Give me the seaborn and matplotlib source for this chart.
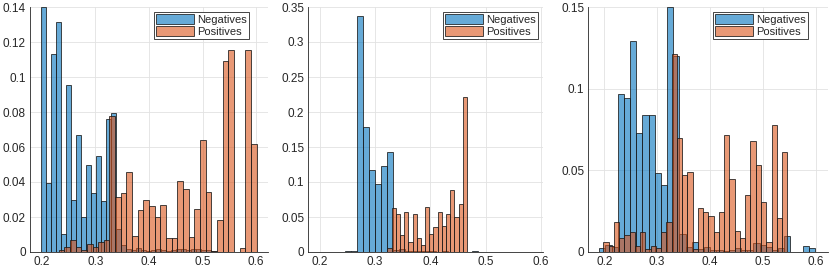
import numpy as np
import pandas as pd
import matplotlib
matplotlib.use("Agg")
import matplotlib.pyplot as plt
import seaborn as sns

# histogram bin layout (first edge, bin width) and bin heights
neg1_start, neg1_width = 0.1976, 0.00935
neg1 = [0.1398, 0.0396, 0.1133, 0.1312, 0.0103, 0.0954, 0.0297, 0.0669, 0.0198, 0.0499,
        0.0339, 0.0550, 0.0291, 0.0760, 0.0794, 0.0130, 0.0040, 0.0020, 0.0012, 0.0025,
        0.0012, 0.0008, 0.0012, 0.0018, 0.0010, 0.0008, 0.0012, 0.0015, 0.0015, 0.0010,
        0.0015, 0.0015, 0.0012, 0.0010, 0.0008]
pos1_start, pos1_width = 0.231, 0.01057
pos1 = [0.0010, 0.0030, 0.0068, 0.0030, 0.0010, 0.0045, 0.0030, 0.0060, 0.0068, 0.0780,
        0.0314, 0.0337, 0.0455, 0.0091, 0.0240, 0.0299, 0.0263, 0.0200, 0.0269, 0.0078,
        0.0080, 0.0404, 0.0358, 0.0084, 0.0248, 0.0640, 0.0343, 0.0006, 0.0180, 0.1093,
        0.1152, 0.0, 0.0021, 0.1152, 0.0615]

neg2_start, neg2_width = 0.2459, 0.0109
neg2 = [0.0010, 0.0010, 0.3376, 0.1786, 0.1170, 0.0967, 0.1233, 0.1429, 0.0030, 0.0040,
        0.0020, 0.0010, 0.0010, 0.0008, 0.0010, 0.0005, 0.0008, 0.0005, 0.0005, 0.0,
        0.0, 0.0008]
pos2_start, pos2_width = 0.3223, 0.00758
pos2 = [0.0060, 0.0624, 0.0543, 0.0238, 0.0571, 0.0138, 0.0543, 0.0205, 0.0105, 0.0643,
        0.0257, 0.0357, 0.0576, 0.0367, 0.0543, 0.0886, 0.0495, 0.0690, 0.2210]

neg3_start, neg3_width = 0.1903, 0.01167
neg3 = [0.0024, 0.0040, 0.0030, 0.0967, 0.0945, 0.1294, 0.0729, 0.0841, 0.0841, 0.0486,
        0.0412, 0.1498, 0.1200, 0.0110, 0.0030, 0.0063, 0.0020, 0.0030, 0.0010, 0.0010,
        0.0005, 0.0010, 0.0027, 0.0015, 0.0015, 0.0053, 0.0043, 0.0033, 0.0010, 0.0027,
        0.0100, 0.0, 0.0, 0.0039, 0.0023]
pos3_start, pos3_width = 0.198, 0.00995
pos3 = [0.0063, 0.0039, 0.0186, 0.0087, 0.0104, 0.0120, 0.0039, 0.0120, 0.0018, 0.0039,
        0.0022, 0.0120, 0.0186, 0.1212, 0.0698, 0.0470, 0.0488, 0.0020, 0.0267, 0.0245,
        0.0222, 0.0120, 0.0247, 0.0714, 0.0447, 0.0129, 0.0084, 0.0349, 0.0678, 0.0533,
        0.0304, 0.0063, 0.0776, 0.0206, 0.0614]

xticks = [0.2, 0.3, 0.4, 0.5, 0.6]
yticks = [np.arange(0, 0.1401, 0.02), np.arange(0, 0.3501, 0.05), np.arange(0, 0.1501, 0.05)]
ymax = [0.14, 0.35, 0.15]
xlims = [(0.1776, 0.6224), (0.1788, 0.6042), (0.1697, 0.6233)]

sns.set_style("white")
plt.rcParams['font.family'] = ['Liberation Sans', 'DejaVu Sans']

W, H = 830, 274
fig = plt.figure(figsize=(W / 100, H / 100), dpi=100)

# axes extents in pixels (left, right) and legend upper-right corners
ax_px = [(30, 268), (308.3, 543), (588.3, 828)]
leg_px = [249, 538, 808]

panels = [
    (neg1_start, neg1_width, neg1, pos1_start, pos1_width, pos1),
    (neg2_start, neg2_width, neg2, pos2_start, pos2_width, pos2),
    (neg3_start, neg3_width, neg3, pos3_start, pos3_width, pos3),
]

blue = '#0072BD'
orange = '#D95319'
dark = '#262626'


def binned(start, width, heights):
    edges = start + width * np.arange(len(heights) + 1)
    centers = edges[:-1] + width / 2
    return pd.DataFrame({'x': centers, 'p': heights}), list(edges)


for i, (ns, nw, nv, ps, pw, pv) in enumerate(panels):
    l, r = ax_px[i]
    ax = fig.add_axes([l / W, 22 / H, (r - l) / W, 245 / H])

    dneg, eneg = binned(ns, nw, nv)
    dpos, epos = binned(ps, pw, pv)
    sns.histplot(data=dneg, x='x', weights='p', bins=eneg, color=blue, alpha=0.6,
                 edgecolor=(0.1, 0.1, 0.1, 0.8), linewidth=0.7, label='Negatives', ax=ax)
    sns.histplot(data=dpos, x='x', weights='p', bins=epos, color=orange, alpha=0.6,
                 edgecolor=(0.1, 0.1, 0.1, 0.8), linewidth=0.7, label='Positives', ax=ax)

    ax.set_xlim(*xlims[i])
    ax.set_ylim(0, ymax[i])
    ax.set_xticks(xticks)
    ax.set_yticks(yticks[i])
    ax.set_xticklabels(['%g' % t for t in xticks])
    ax.set_yticklabels(['%g' % round(t, 2) for t in yticks[i]])
    ax.set_xlabel('')
    ax.set_ylabel('')
    ax.grid(True, color='#e2e2e2', linewidth=0.6)
    ax.set_axisbelow(True)
    for s in ['top', 'right']:
        ax.spines[s].set_visible(False)
    for s in ['left', 'bottom']:
        ax.spines[s].set_color(dark)
        ax.spines[s].set_linewidth(0.6)
    ax.tick_params(direction='in', length=3, width=0.5, colors=dark, labelsize=8.5, pad=3)

    leg = ax.legend(loc='upper right', bbox_to_anchor=(leg_px[i] / W, 1 - 12 / H),
                    bbox_transform=fig.transFigure, borderaxespad=0, fontsize=8,
                    handlelength=3.4, handleheight=0.95, handletextpad=0.3,
                    labelspacing=0.1, borderpad=0.2, fancybox=False, framealpha=1)
    leg.get_frame().set_edgecolor(dark)
    leg.get_frame().set_linewidth(0.6)

fig.savefig('out.png', dpi=100)
